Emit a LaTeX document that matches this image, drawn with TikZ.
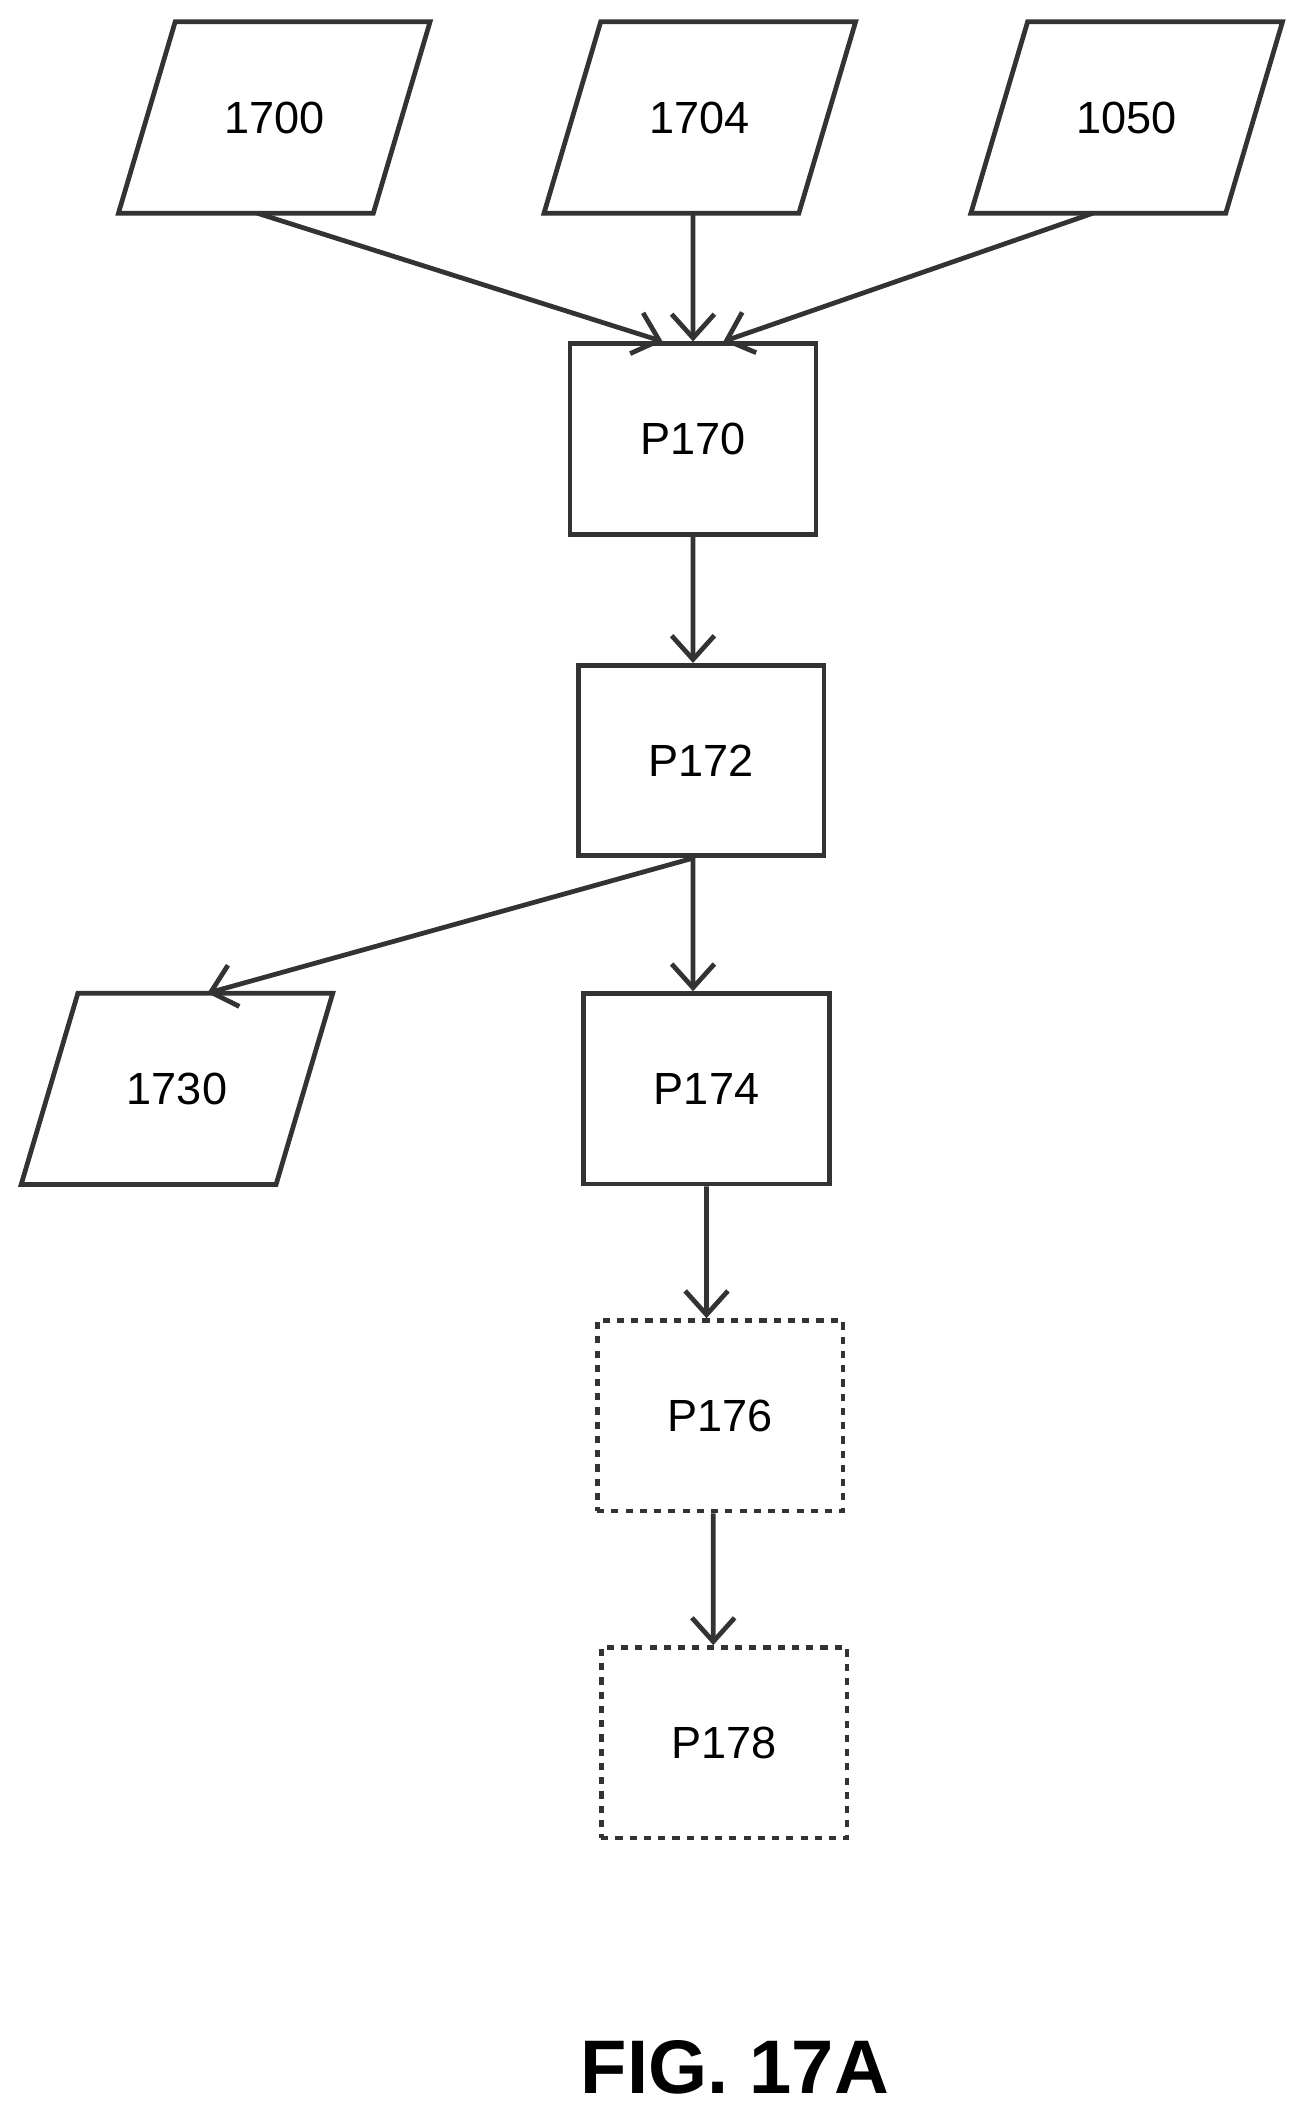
\documentclass[tikz,border=0pt]{standalone}
\usepackage{fontspec}
\setmainfont{Liberation Sans}
\usetikzlibrary{arrows.meta}

\tikzset{
  box/.style={draw=black!80, line width=2pt, minimum width=3.64cm, minimum height=2.82cm, font=\fontsize{19}{22}\selectfont},
  optbox/.style={box, dash pattern=on 3pt off 3pt},
  data/.style={minimum width=3.76cm, minimum height=2.82cm, font=\fontsize{19}{22}\selectfont},
  flow/.style={-{Straight Barb[length=10pt,width=18pt]}, draw=black!80, line width=2pt}
}

% data parallelogram around a node
\newcommand{\datanode}[3]{%
  \node[data] (#1) at (#2) {#3};
  \draw[draw=black!80, line width=2pt]
    ([xshift=0.42cm]#1.north west) -- ([xshift=0.42cm]#1.north east)
    -- ([xshift=-0.42cm]#1.south east) -- ([xshift=-0.42cm]#1.south west) -- cycle;
}

\begin{document}
\begin{tikzpicture}[x=0.02cm, y=-0.02cm]

    % the frame
    \useasboundingbox (0,0) rectangle (970,1573);

    % inputs
    \datanode{in1700}{203,87}{1700}
    \datanode{in1704}{518,87}{1704}
    \datanode{in1050}{834,87}{1050}

    % steps
    \node[box] (p170) at (513,325) {P170};
    \node[box] (p172) at (519,563) {P172};
    \datanode{out1730}{131,806}{1730}
    \node[box] (p174) at (523,806) {P174};
    \node[optbox] (p176) at (533,1048) {P176};
    \node[optbox] (p178) at (536,1290) {P178};

    % arrows
    \draw[flow] ([xshift=-0.25cm]in1700.south) -- ([xshift=-0.45cm]p170.north);
    \draw[flow] ([xshift=-0.1cm]in1704.south) -- (p170.north);
    \draw[flow] ([xshift=-0.5cm]in1050.south) -- ([xshift=0.45cm]p170.north);
    \draw[flow] (p170.south) -- ([xshift=-0.12cm]p172.north);
    \draw[flow] ([xshift=-0.12cm]p172.south) -- ([xshift=0.45cm]out1730.north);
    \draw[flow] ([xshift=-0.12cm]p172.south) -- ([xshift=-0.2cm]p174.north);
    \draw[flow] (p174.south) -- ([xshift=-0.2cm]p176.north);
    \draw[flow] ([xshift=-0.1cm]p176.south) -- ([xshift=-0.16cm]p178.north);

    % label
    \node[font=\fontsize{32}{36}\selectfont\bfseries] (fig) at (544,1530) {FIG. 17A};

\end{tikzpicture}
\end{document}
